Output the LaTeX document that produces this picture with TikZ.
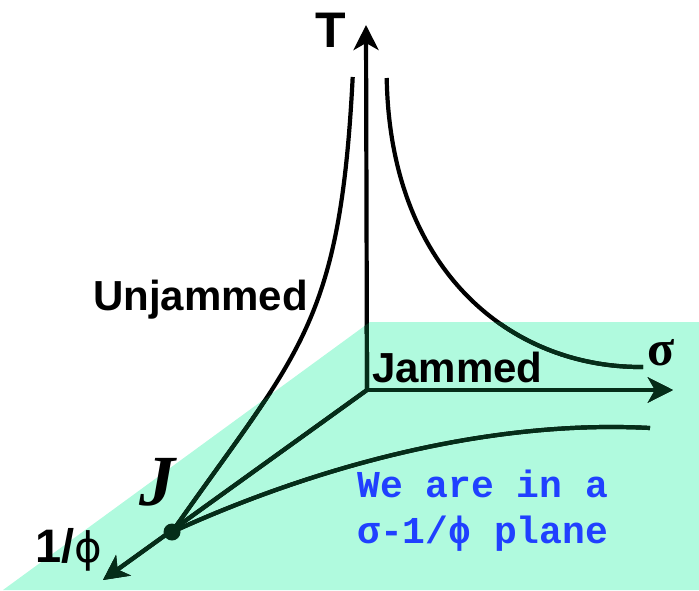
\documentclass[tikz,border=0pt]{standalone}
\usepackage{fontspec}
\setmainfont{Liberation Sans}
\newfontfamily\serifb{Liberation Serif}
\newfontfamily\monob{Liberation Mono}
\newfontfamily\dejavu{DejaVu Sans}
\usetikzlibrary{arrows.meta}
\definecolor{planecol}{RGB}{176,250,222}
\definecolor{ln}{RGB}{5,45,25}
\definecolor{bluetxt}{RGB}{32,64,255}
\newcommand\jamlines{%
  \draw[axisarrow] (O) -- (Ttip);
  \draw[axisarrow] (O) -- (Stip);
  \draw[axisarrow] (O) -- (Ptip);
  \draw[curve] (J) .. controls (298,352) and (340,327) .. (Utop);
  \draw[curve] (Rtop) .. controls (390,270) and (510,368) .. (Rend);
  \draw[curve] (J) .. controls (330,460) and (500,420) .. (Lend);
}
\begin{document}
\begin{tikzpicture}[x=1pt,y=-1pt,
  curve/.style={line width=4.2pt},
  axisarrow/.style={line width=4.2pt,-{Stealth[length=25pt,width=25pt,inset=7pt]}},
  lbl/.style={inner sep=0pt, font=\fontsize{42}{42}\selectfont\bfseries}
]
\useasboundingbox (0,0) rectangle (699,590);
\fill[planecol] (370,322) -- (699,322) -- (699,590) -- (3,590) -- cycle;
\coordinate (O) at (367,390);
\coordinate (Ttip) at (366,25);
\coordinate (Stip) at (673,390);
\coordinate (Ptip) at (103,580);
\coordinate (J) at (172,532);
\coordinate (Utop) at (352.7,77);
\coordinate (Rtop) at (386.7,78);
\coordinate (Rend) at (643,367);
\coordinate (Lend) at (650,428);
\jamlines
\begin{scope}
  \clip (370,322) -- (699,322) -- (699,590) -- (3,590) -- cycle;
  \begin{scope}[color=ln]
    \jamlines
  \end{scope}
\end{scope}
\fill[ln] (J) circle[radius=8.5pt];
\node[lbl, anchor=base west] (unj) at (93,310) {Unjammed};
\node[lbl, anchor=base west] (jam) at (372,382) {Jammed};
\node[inner sep=0pt, anchor=base west, font=\fontsize{50}{50}\selectfont\bfseries] (Tlbl) at (315,47) {T};
\node[inner sep=0pt, anchor=base west, font=\fontsize{47}{47}\selectfont\bfseries] (philbl) at (35,562) {1/{\dejavu\mdseries\fontsize{42}{42}\selectfont ϕ}};
\node[inner sep=0pt, anchor=base west, font=\serifb\bfseries\fontsize{50}{50}\selectfont] (siglbl) at (647,365) {σ};
\node[inner sep=0pt, font=\serifb\bfseries\itshape\fontsize{72}{72}\selectfont] (Jlbl) at (157,482) {J};
\node[inner sep=0pt, anchor=base west, font=\monob\bfseries\fontsize{38}{38}\selectfont, text=bluetxt] (note1) at (357,497) {We are in a};
\node[inner sep=0pt, anchor=base west, font=\monob\bfseries\fontsize{38}{38}\selectfont, text=bluetxt] (note2) at (357,543) {σ-1/ϕ plane};
\end{tikzpicture}
\end{document}
